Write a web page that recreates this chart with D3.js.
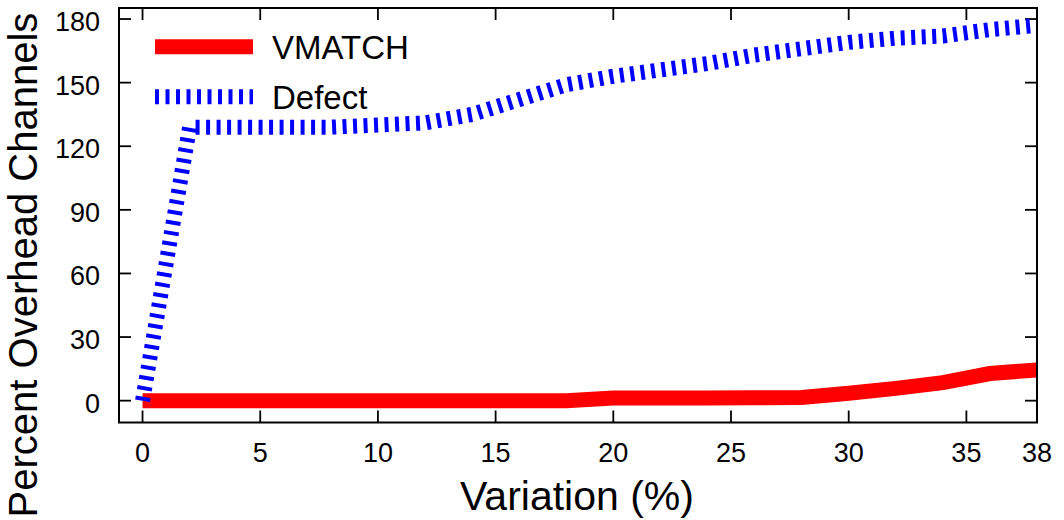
<!DOCTYPE html>
<html>
<head>
<meta charset="utf-8">
<script src="https://cdn.jsdelivr.net/npm/d3@7"></script>
<style>
  body { margin: 0; background: #fff; }
  svg text { font-family: "Liberation Sans", Arial, Helvetica, sans-serif; fill: #000; }
</style>
</head>
<body>
<div id="chart"></div>
<script>
// values
var variation = [0, 2, 4, 6, 8, 10, 12, 14, 16, 18, 20, 22, 24, 26, 28, 30, 32, 34, 36, 38];
var vmatch = [0, 0, 0, 0, 0, 0, 0, 0, 0, 0, 1.2, 1.3, 1.3, 1.4, 1.5, 3.5, 5.8, 8.5, 12.8, 14.5];
var defect = [0, 129, 129, 129, 129, 130, 131, 135, 142, 149, 153, 156, 159, 163, 166, 169, 171, 172, 175, 177];
var xTicks = [0, 5, 10, 15, 20, 25, 30, 35, 38];
var yTicks = [0, 30, 60, 90, 120, 150, 180];
var seriesNames = ["VMATCH", "Defect"];

var W = 1064, H = 520;
var pLeft = 119, pRight = 1037, pTop = 8, pBottom = 422.5;

var svg = d3.select("#chart").append("svg")
    .attr("width", W)
    .attr("height", H);

var x = d3.scaleLinear().domain([-1, 38]).range([pLeft, pRight]);
var y = d3.scaleLinear().domain([-10.3, 185.2]).range([pBottom, pTop]);

svg.append("clipPath").attr("id", "plotclip")
  .append("rect")
    .attr("x", pLeft).attr("y", pTop)
    .attr("width", pRight - pLeft).attr("height", pBottom - pTop);

// ticks, mirrored on all four sides, pointing inwards
var tl = 12;
var axes = svg.append("g").attr("stroke", "#000").attr("stroke-width", 1.8);
xTicks.filter(d => d < 38).forEach(function (d) {
    axes.append("line").attr("x1", x(d)).attr("x2", x(d)).attr("y1", pBottom).attr("y2", pBottom - tl);
    axes.append("line").attr("x1", x(d)).attr("x2", x(d)).attr("y1", pTop).attr("y2", pTop + tl);
});
yTicks.forEach(function (d) {
    axes.append("line").attr("x1", pLeft).attr("x2", pLeft + tl).attr("y1", y(d)).attr("y2", y(d));
    axes.append("line").attr("x1", pRight).attr("x2", pRight - tl).attr("y1", y(d)).attr("y2", y(d));
});

// tick labels
svg.append("g").selectAll("text")
    .data(xTicks).join("text")
    .attr("x", d => x(d))
    .attr("y", 462)
    .attr("text-anchor", "middle")
    .style("font-size", "27px")
    .text(d => d);

svg.append("g").selectAll("text")
    .data(yTicks).join("text")
    .attr("x", 100)
    .attr("y", d => y(d) + 12)
    .attr("text-anchor", "end")
    .style("font-size", "27px")
    .text(d => d);

// axis titles
svg.append("text")
    .attr("x", 577).attr("y", 510)
    .attr("text-anchor", "middle")
    .style("font-size", "41px")
    .text("Variation (%)");

svg.append("text")
    .attr("transform", "translate(37,265) rotate(-90)")
    .attr("text-anchor", "middle")
    .style("font-size", "40px")
    .text("Percent Overhead Channels");

// lines
var line = d3.line()
    .x((d, i) => x(variation[i]))
    .y(d => y(d));

var plot = svg.append("g").attr("clip-path", "url(#plotclip)");

plot.append("path")
    .attr("d", line(vmatch))
    .attr("fill", "none")
    .attr("stroke", "#ff0000")
    .attr("stroke-width", 15);

plot.append("path")
    .attr("d", line(defect))
    .attr("fill", "none")
    .attr("stroke", "#0000ff")
    .attr("stroke-width", 15)
    .attr("stroke-dasharray", "4,6.5");

// frame
svg.append("rect")
    .attr("x", pLeft).attr("y", pTop)
    .attr("width", pRight - pLeft).attr("height", pBottom - pTop)
    .attr("fill", "none")
    .attr("stroke", "#000")
    .attr("stroke-width", 2);

// legend
var legend = svg.append("g");
legend.append("line")
    .attr("x1", 155).attr("x2", 253).attr("y1", 46.7).attr("y2", 46.7)
    .attr("stroke", "#ff0000").attr("stroke-width", 15);
legend.append("line")
    .attr("x1", 155).attr("x2", 253).attr("y1", 96.7).attr("y2", 96.7)
    .attr("stroke", "#0000ff").attr("stroke-width", 15)
    .attr("stroke-dasharray", "4,6.5");
legend.selectAll("text")
    .data(seriesNames).join("text")
    .attr("x", 272)
    .attr("y", (d, i) => 46.7 + i * 50 + 12)
    .style("font-size", "33px")
    .text(d => d);
</script>
</body>
</html>
